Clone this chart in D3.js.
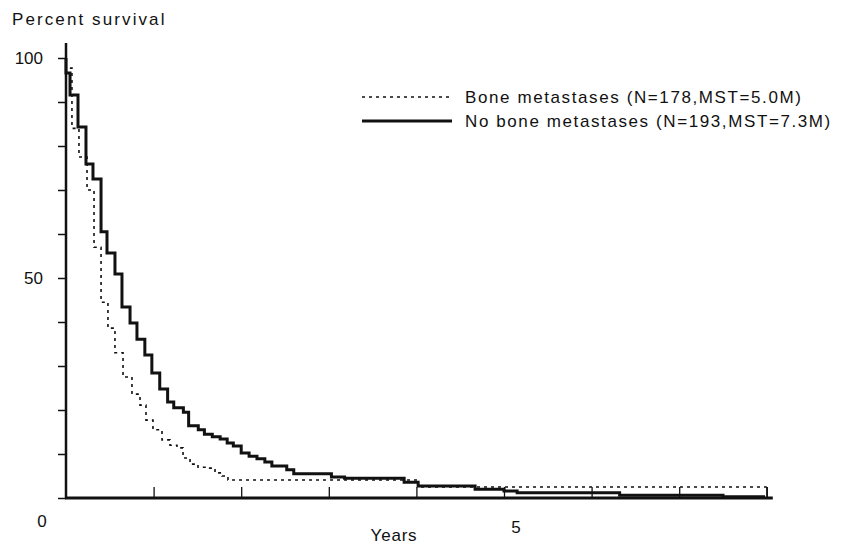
<!DOCTYPE html>
<html>
<head>
<meta charset="utf-8">
<script src="https://cdn.jsdelivr.net/npm/d3@7"></script>
<style>
  body { margin: 0; background: #fff; }
  svg { display: block; }
  text { font-family: "Liberation Sans", Arial, sans-serif; fill: #111; }
</style>
</head>
<body>
<svg width="842" height="545"></svg>
<script>
// Kaplan-Meier steps (years, percent surviving)
var noBoneYears = [0, 0.046, 0.137, 0.228, 0.308, 0.40, 0.468, 0.559, 0.639, 0.731, 0.81, 0.90,
    0.98, 1.07, 1.16, 1.23, 1.34, 1.40, 1.51, 1.58, 1.67, 1.76, 1.84, 1.91, 2.00, 2.09, 2.18,
    2.27, 2.35, 2.52, 2.60, 3.03, 3.18, 3.86, 4.02, 4.67, 5.00, 5.15, 6.32, 7.50, 7.98];
var noBoneSurv = [96.6, 91.6, 84.3, 75.9, 72.5, 60.5, 55.7, 50.9, 43.4, 39.8, 36.1, 32.5,
    28.4, 24.8, 21.8, 20.5, 19.5, 16.4, 15.5, 14.5, 13.9, 13.4, 12.5, 11.8, 10.2, 9.5, 8.9,
    8.2, 7.3, 6.4, 5.5, 4.8, 4.5, 3.6, 2.7, 2.0, 1.6, 1.2, 0.6, 0.3, 0.3];

var boneYears = [0, 0.068, 0.148, 0.240, 0.320, 0.400, 0.479, 0.559, 0.651, 0.753, 0.845, 0.913,
    0.993, 1.096, 1.187, 1.267, 1.336, 1.416, 1.507, 1.610, 1.701, 1.781, 1.849, 4.02, 8.0];
var boneSurv = [97.7, 84.0, 77.5, 70.0, 57.0, 44.5, 38.6, 33.0, 27.5, 23.6, 21.1, 17.7,
    15.5, 13.2, 12.0, 11.4, 9.1, 7.7, 7.0, 6.8, 5.7, 5.0, 4.1, 2.5, 2.5];

var yTickValues = [0, 10, 20, 30, 40, 50, 60, 70, 80, 90, 100];
var yLabelValues = [100, 50];
var xTickValues = [1, 2, 3, 4, 5, 6, 7, 8];
var xLabelValues = [0, 5];
var legendLabels = ['Bone metastases (N=178,MST=5.0M)', 'No bone metastases (N=193,MST=7.3M)'];

var svg = d3.select('svg');

var xScale = d3.scaleLinear().domain([0, 8]).range([66, 766.8]);
var yScale = d3.scaleLinear().domain([0, 100]).range([498, 58]);

// axis lines (drawn a little past the scale ends like the original)
svg.append('line')
    .attr('x1', xScale(0)).attr('x2', xScale(0))
    .attr('y1', yScale(0) + 1).attr('y2', yScale(100) - 15)
    .attr('stroke', '#111').attr('stroke-width', 2.5);
svg.append('line')
    .attr('x1', xScale(0) - 1).attr('x2', xScale(8) + 6)
    .attr('y1', yScale(0)).attr('y2', yScale(0))
    .attr('stroke', '#111').attr('stroke-width', 3);

var yAxis = d3.axisLeft(yScale).tickValues(yTickValues).tickSize(8).tickFormat('');
var yG = svg.append('g')
    .attr('transform', 'translate(' + xScale(0) + ',0)')
    .call(yAxis);
yG.select('.domain').remove();
yG.selectAll('line').attr('stroke', '#111').attr('stroke-width', 1.5);

var xAxis = d3.axisBottom(xScale).tickValues(xTickValues).tickSize(-11).tickFormat('');
var xG = svg.append('g')
    .attr('transform', 'translate(0,' + yScale(0) + ')')
    .call(xAxis);
xG.select('.domain').remove();
xG.selectAll('line').attr('stroke', '#111').attr('stroke-width', 1.3);

// tick labels
svg.selectAll('.ylabel')
    .data(yLabelValues)
    .enter()
    .append('text')
    .attr('class', 'ylabel')
    .attr('x', xScale(0) - 23)
    .attr('y', function(d){return yScale(d) + 6;})
    .attr('text-anchor', 'end')
    .style('font-size', '17px')
    .text(function(d){return d;});

svg.selectAll('.xlabel')
    .data(xLabelValues)
    .enter()
    .append('text')
    .attr('class', 'xlabel')
    .attr('x', function(d){return d === 0 ? xScale(d) - 24 : xScale(d) + 12;})
    .attr('y', function(d){return d === 0 ? yScale(0) + 29 : yScale(0) + 35;})
    .attr('text-anchor', 'middle')
    .style('font-size', '17px')
    .text(function(d){return d;});

svg.append('text')
    .attr('x', 12).attr('y', 25)
    .style('font-size', '17px')
    .style('letter-spacing', '2.1px')
    .text('Percent survival');

svg.append('text')
    .attr('x', 394).attr('y', 541)
    .attr('text-anchor', 'middle')
    .style('font-size', '17px')
    .style('letter-spacing', '0.8px')
    .text('Years');

// survival curves
var stepLine = d3.line()
    .x(function(d){return xScale(d[0]);})
    .y(function(d){return yScale(d[1]);})
    .curve(d3.curveStepAfter);

var bonePts = d3.zip(boneYears, boneSurv);
bonePts.unshift([0, 100]);
var noBonePts = d3.zip(noBoneYears, noBoneSurv);
noBonePts.unshift([0, 100]);

svg.append('path')
    .datum(bonePts)
    .attr('d', stepLine)
    .attr('fill', 'none')
    .attr('stroke', '#111')
    .attr('stroke-width', 1.6)
    .attr('stroke-dasharray', '3,4');

// dotted curve ends with a short drop
svg.append('line')
    .attr('x1', xScale(8)).attr('x2', xScale(8))
    .attr('y1', yScale(2.5)).attr('y2', yScale(0))
    .attr('stroke', '#111').attr('stroke-width', 1.3);

svg.append('path')
    .datum(noBonePts)
    .attr('d', stepLine)
    .attr('fill', 'none')
    .attr('stroke', '#111')
    .attr('stroke-width', 3);

// legend
var legend = svg.append('g').attr('transform', 'translate(362,97)');
legend.append('line')
    .attr('x1', 0).attr('x2', 90).attr('y1', 0).attr('y2', 0)
    .attr('stroke', '#111').attr('stroke-width', 1.6).attr('stroke-dasharray', '3,4');
legend.append('line')
    .attr('x1', 0).attr('x2', 90).attr('y1', 24).attr('y2', 24)
    .attr('stroke', '#111').attr('stroke-width', 3);
legend.selectAll('text')
    .data(legendLabels)
    .enter()
    .append('text')
    .attr('x', 103)
    .attr('y', function(d, i){return 6 + i * 24;})
    .style('font-size', '17px')
    .style('letter-spacing', '1.6px')
    .text(function(d){return d;});
</script>
</body>
</html>
